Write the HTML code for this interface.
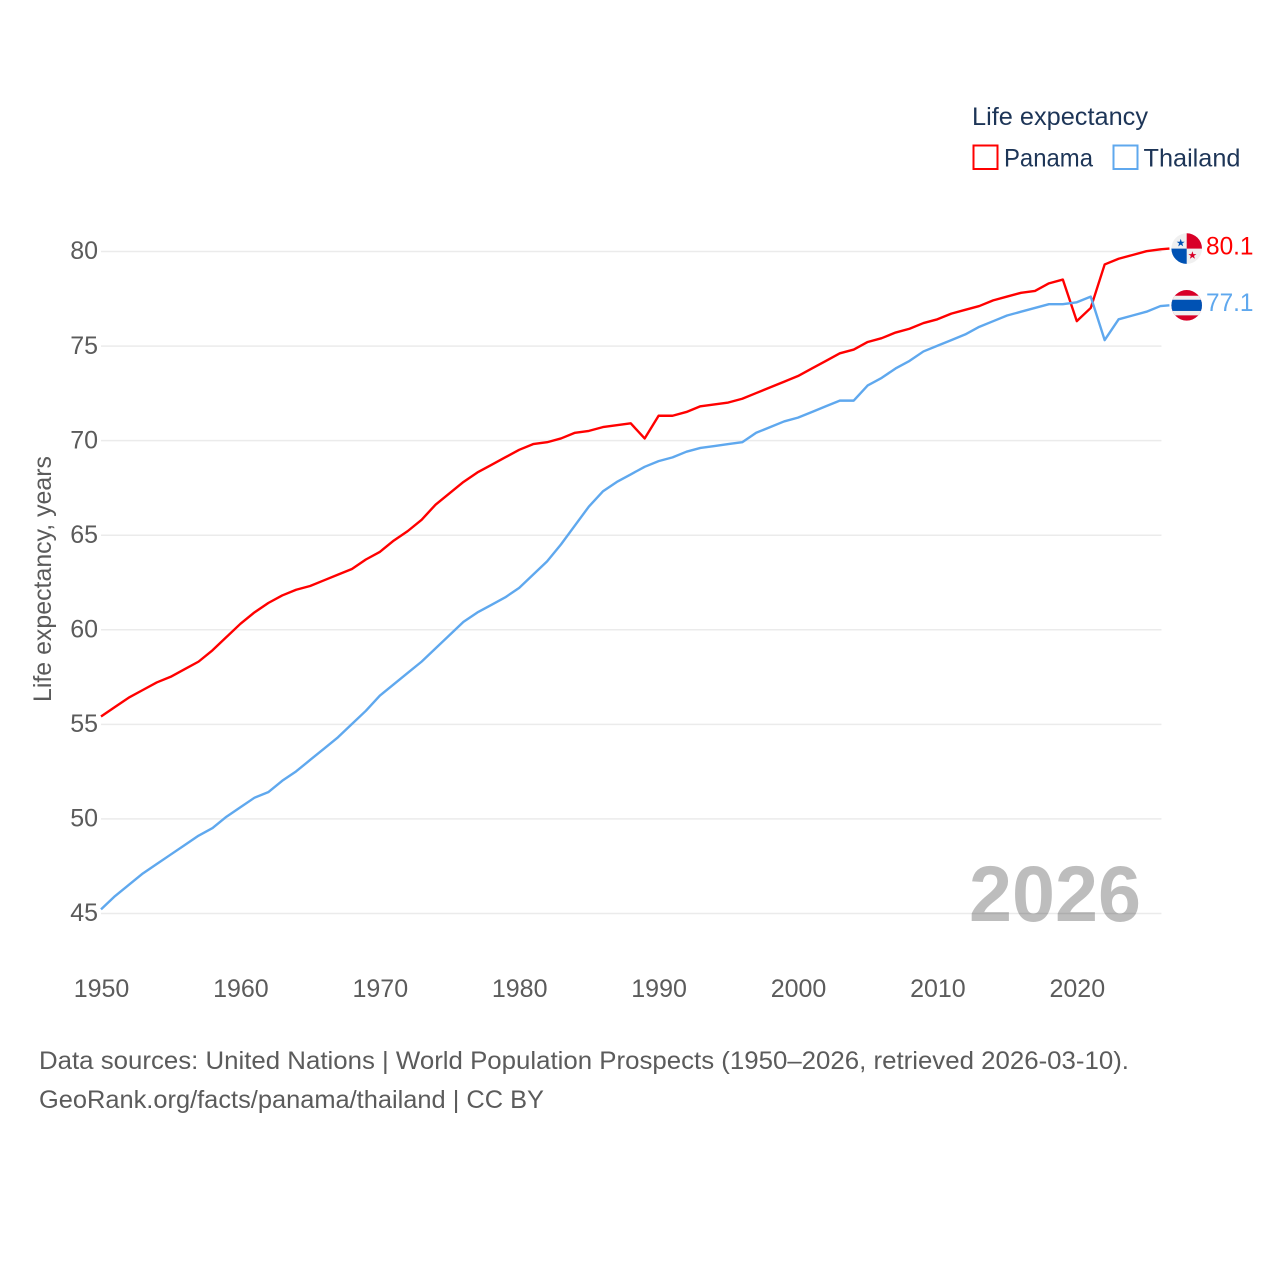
<!DOCTYPE html>
<html lang="en">
<head>
<meta charset="utf-8">
<title>Life expectancy: Panama and Thailand</title>
<style>
  html, body { margin: 0; padding: 0; background: #fff; }
  svg { display: block; font-family: "Liberation Sans", sans-serif; }
</style>
</head>
<body>
<svg id="chart" xmlns="http://www.w3.org/2000/svg" width="1280" height="1280" viewBox="0 0 1280 1280">
  <rect width="1280" height="1280" fill="#fff"/>
  <defs>
    <clipPath id="flag-clip"><circle cx="0" cy="0" r="15.3"/></clipPath>
  </defs>
  <g id="grid"></g>
  <g id="y-ticks"></g>
  <g id="x-ticks"></g>
  <text transform="translate(51,702) rotate(-90)" font-size="25" fill="#5b5b5b" textLength="246" lengthAdjust="spacingAndGlyphs">Life expectancy, years</text>
  <text x="969" y="921" font-size="79" font-weight="700" fill="#000" fill-opacity="0.26" textLength="172" lengthAdjust="spacingAndGlyphs">2026</text>
  <g id="series"></g>

  <g id="flag-panama">
    <g clip-path="url(#flag-clip)">
      <rect x="-16" y="-16" width="32" height="32" fill="#f0f0f0"/>
      <rect x="0" y="-16" width="16" height="16" fill="#d80027"/>
      <rect x="-16" y="0" width="16" height="16" fill="#0052b4"/>
      <polygon points="0,-4.2 1,-1.3 4,-1.3 1.6,0.5 2.5,3.4 0,1.6 -2.5,3.4 -1.6,0.5 -4,-1.3 -1,-1.3" transform="translate(-6,-5.6)" fill="#0052b4"/>
      <polygon points="0,-4.2 1,-1.3 4,-1.3 1.6,0.5 2.5,3.4 0,1.6 -2.5,3.4 -1.6,0.5 -4,-1.3 -1,-1.3" transform="translate(5.7,6.8)" fill="#d80027"/>
    </g>
  </g>
  <g id="flag-thailand">
    <g clip-path="url(#flag-clip)">
      <rect x="-16" y="-16" width="32" height="32" fill="#d80027"/>
      <rect x="-16" y="-9.6" width="32" height="19.6" fill="#f0f0f0"/>
      <rect x="-16" y="-5.6" width="32" height="11.2" fill="#0052b4"/>
    </g>
  </g>
  <g id="end-labels"></g>

  <g>
    <text x="972" y="125" font-size="25" fill="#1d3557" textLength="176" lengthAdjust="spacingAndGlyphs">Life expectancy</text>
    <g>
      <rect x="973.5" y="145.5" width="24" height="23.5" fill="none" stroke="#ff0000" stroke-width="2"/>
      <text x="1004" y="166.5" font-size="25" fill="#1d3557" textLength="89" lengthAdjust="spacingAndGlyphs">Panama</text>
    </g>
    <g>
      <rect x="1113.5" y="145.5" width="24" height="23.5" fill="none" stroke="#5fa8ee" stroke-width="2"/>
      <text x="1143.5" y="166.5" font-size="25" fill="#1d3557" textLength="97" lengthAdjust="spacingAndGlyphs">Thailand</text>
    </g>
  </g>

  <text x="39" y="1069" font-size="25" fill="#5b5b5b" textLength="1090" lengthAdjust="spacingAndGlyphs">Data sources: United Nations | World Population Prospects (1950–2026, retrieved 2026-03-10).</text>
  <text x="39" y="1108" font-size="25" fill="#5b5b5b" textLength="505" lengthAdjust="spacingAndGlyphs">GeoRank.org/facts/panama/thailand | CC BY</text>
</svg>

<script>
const startYear = 1950;
const xTickLabels = [1950, 1960, 1970, 1980, 1990, 2000, 2010, 2020];
const yTickLabels = [45, 50, 55, 60, 65, 70, 75, 80];
const panamaValues = [
  55.4, 55.9, 56.4, 56.8, 57.2, 57.5, 57.9, 58.3, 58.9, 59.6,
  60.3, 60.9, 61.4, 61.8, 62.1, 62.3, 62.6, 62.9, 63.2, 63.7,
  64.1, 64.7, 65.2, 65.8, 66.6, 67.2, 67.8, 68.3, 68.7, 69.1,
  69.5, 69.8, 69.9, 70.1, 70.4, 70.5, 70.7, 70.8, 70.9, 70.1,
  71.3, 71.3, 71.5, 71.8, 71.9, 72.0, 72.2, 72.5, 72.8, 73.1,
  73.4, 73.8, 74.2, 74.6, 74.8, 75.2, 75.4, 75.7, 75.9, 76.2,
  76.4, 76.7, 76.9, 77.1, 77.4, 77.6, 77.8, 77.9, 78.3, 78.5,
  76.3, 77.0, 79.3, 79.6, 79.8, 80.0, 80.1
];
const thailandValues = [
  45.2, 45.9, 46.5, 47.1, 47.6, 48.1, 48.6, 49.1, 49.5, 50.1,
  50.6, 51.1, 51.4, 52.0, 52.5, 53.1, 53.7, 54.3, 55.0, 55.7,
  56.5, 57.1, 57.7, 58.3, 59.0, 59.7, 60.4, 60.9, 61.3, 61.7,
  62.2, 62.9, 63.6, 64.5, 65.5, 66.5, 67.3, 67.8, 68.2, 68.6,
  68.9, 69.1, 69.4, 69.6, 69.7, 69.8, 69.9, 70.4, 70.7, 71.0,
  71.2, 71.5, 71.8, 72.1, 72.1, 72.9, 73.3, 73.8, 74.2, 74.7,
  75.0, 75.3, 75.6, 76.0, 76.3, 76.6, 76.8, 77.0, 77.2, 77.2,
  77.3, 77.6, 75.3, 76.4, 76.6, 76.8, 77.1
];

const NS = 'http://www.w3.org/2000/svg';
const xOf = (year) => 101 + (year - 1950) * 13.94;
const yOf = (v) => 251.2 + (80 - v) * 18.914;
const plotRight = xOf(startYear + panamaValues.length - 1);

function make(tag, attrs, parent, txt) {
  const el = document.createElementNS(NS, tag);
  for (const k in attrs) el.setAttribute(k, attrs[k]);
  if (txt !== undefined) el.textContent = txt;
  parent.appendChild(el);
  return el;
}

const gridG = document.getElementById('grid');
const yTicksG = document.getElementById('y-ticks');
yTickLabels.forEach((t) => {
  const line = make('line', { x1: xOf(1950), x2: plotRight + 1, y1: yOf(t) + 0.3, y2: yOf(t) + 0.3, stroke: '#ebebeb', 'stroke-width': 1.5 }, gridG);
  
  
  const label = make('text', { x: 98, y: yOf(t) + 8, 'text-anchor': 'end', 'font-size': 25, fill: '#5b5b5b' }, yTicksG, String(t));
  
  
});

const xTicksG = document.getElementById('x-ticks');
xTickLabels.forEach((t) => {
  const label = make('text', { x: xOf(t) + 0.5, y: 997, 'text-anchor': 'middle', 'font-size': 25, fill: '#5b5b5b' }, xTicksG, String(t));
  
  
});

const seriesG = document.getElementById('series');
const endLabelsG = document.getElementById('end-labels');
function drawSeries(values, color, key, flagId) {
  const pts = values.map((v, i) => xOf(startYear + i).toFixed(2) + ',' + yOf(v).toFixed(2));
  const last = values[values.length - 1];
  const lastY = yOf(last);
  pts.push((plotRight + 9).toFixed(2) + ',' + (lastY - 0.7).toFixed(2));
  const line = make('polyline', { points: pts.join(' '), fill: 'none', stroke: color, 'stroke-width': 2.4, 'stroke-linejoin': 'round' }, seriesG);
  
  
  document.getElementById(flagId).setAttribute('transform', 'translate(1186.7,' + (lastY - 0.7).toFixed(2) + ')');
  const label = make('text', { x: 1206, y: lastY + 5, 'font-size': 25, fill: color, textLength: 47.5, lengthAdjust: 'spacingAndGlyphs' }, endLabelsG, last.toFixed(1));
  
  
}
drawSeries(panamaValues, '#ff0000', 'panama', 'flag-panama');
drawSeries(thailandValues, '#5fa8ee', 'thailand', 'flag-thailand');
</script>
</body>
</html>
